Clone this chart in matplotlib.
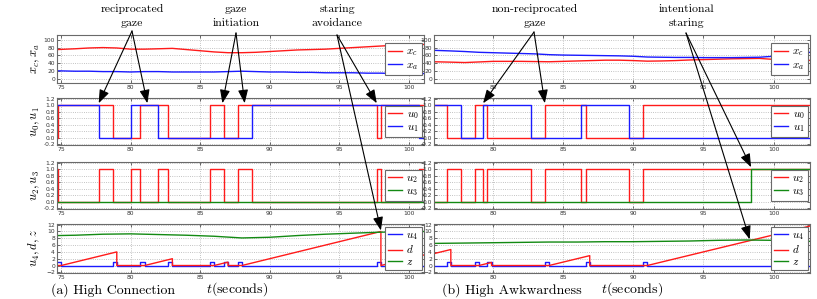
import matplotlib
matplotlib.use('Agg')
import matplotlib.pyplot as plt
from matplotlib.patches import ConnectionPatch
from matplotlib.ticker import FormatStrFormatter

plt.rcParams['mathtext.fontset'] = 'cm'

# ---------------- data: (a) High Connection ----------------
a_xlim = (74.7, 101.1)
a_xt = [74.7, 76, 77, 78, 79, 80, 81, 82, 83, 84, 85, 86, 87, 88, 89, 90, 91, 92, 93, 94, 95, 96, 97, 98, 99, 100, 101.1]
a_xc = [75, 77, 79, 80, 79, 76, 76, 77, 78, 75, 72, 69, 67, 67, 68, 70, 72, 74, 75, 76, 78, 80, 82, 84, 86, 87, 88]
a_xa = [21, 20, 20, 19, 19, 18, 19, 19, 18, 18, 18, 18, 19, 20, 19, 18, 18, 17, 17, 16, 16, 16, 15, 15, 14, 14, 14]

a_u0_t = [74.7, 74.8, 78.7, 80.7, 82.7, 85.7, 86.7, 87.7, 97.7, 98.0, 101.1]
a_u0_v = [0, 1, 0, 1, 0, 1, 0, 1, 0, 1, 1]
a_u1_t = [74.7, 77.7, 80.0, 82.0, 88.7, 100.75, 101.1]
a_u1_v = [1, 0, 1, 0, 1, 0, 0]
a_u2_t = [74.7, 74.8, 77.7, 78.7, 80.0, 80.7, 82.0, 82.7, 85.7, 86.7, 87.7, 88.7, 97.7, 98.0, 100.75, 101.1]
a_u2_v = [1, 0, 1, 0, 1, 0, 1, 0, 1, 0, 1, 0, 1, 0, 1, 1]
a_u3_t = [74.7, 101.1]
a_u3_v = [0, 0]
a_u4_t = [74.7, 75.0, 78.7, 79.0, 80.7, 81.0, 82.7, 83.0, 85.7, 86.0, 86.7, 87.0, 87.7, 88.0, 97.7, 98.0, 101.1]
a_u4_v = [1, 0, 1, 0, 1, 0, 1, 0, 1, 0, 1, 0, 1, 0, 1, 0, 0]
a_d_t = [74.7, 75.0, 79.0, 79.0, 81.0, 83.0, 83.0, 86.0, 87.0, 87.0, 88.0, 98.0, 98.0, 101.1]
a_d_v = [0, 0, 4.0, 0, 0, 2.0, 0, 0, 1.0, 0, 0, 10.0, 0, 3.1]
a_z_t = [74.7, 76, 78, 80, 82, 84, 86, 88, 90, 92, 94, 96, 98, 100, 101.1]
a_z_v = [8.8, 8.9, 9.2, 9.3, 9.1, 8.9, 8.6, 8.1, 8.3, 8.8, 9.2, 9.5, 9.8, 9.9, 10.0]

# ---------------- data: (b) High Awkwardness ----------------
b_xlim = (75.8, 102.6)
b_xt = [75.8, 77, 78, 79, 80, 81, 82, 83, 84, 85, 86, 87, 88, 89, 90, 91, 92, 93, 94, 95, 96, 97, 98, 99, 100, 101, 102, 102.6]
b_xc = [44, 43, 42, 43.5, 45, 45, 45, 44.5, 44, 45, 46, 47, 48, 48, 47, 45.5, 46, 47, 48.5, 49.5, 50.5, 51.5, 52, 52.5, 50, 48.5, 48, 47.5]
b_xa = [73, 71.5, 70, 68, 67, 66, 65, 64, 62, 61, 60.5, 60, 59.5, 59, 58, 56, 55.5, 55, 55, 54.5, 54.5, 54.5, 55, 55.5, 58, 62, 66, 68]

b_u0_t = [75.8, 76.7, 78.7, 79.6, 83.7, 86.6, 90.7, 102.6]
b_u0_v = [1, 0, 1, 0, 1, 0, 1, 1]
b_u1_t = [75.8, 77.7, 79.3, 82.7, 86.3, 89.7, 102.6]
b_u1_v = [1, 0, 1, 0, 1, 0, 0]
b_u2_t = [75.8, 76.7, 77.7, 78.7, 79.3, 79.6, 82.7, 83.7, 86.3, 86.6, 89.7, 90.7, 102.6]
b_u2_v = [0, 1, 0, 1, 0, 1, 0, 1, 0, 1, 0, 1, 1]
b_u3_t = [75.8, 98.4, 102.6]
b_u3_v = [0, 1, 1]
b_u4_t = [75.8, 76.7, 77.0, 78.7, 79.0, 79.6, 79.9, 83.7, 84.0, 86.6, 86.9, 90.7, 91.0, 102.6]
b_u4_v = [0, 1, 0, 1, 0, 1, 0, 1, 0, 1, 0, 1, 0, 0]
b_d_t = [75.8, 77.0, 77.0, 79.0, 79.9, 79.9, 84.0, 86.9, 86.9, 91.0, 102.6]
b_d_v = [3.5, 4.7, 0, 0, 0.9, 0, 0, 2.9, 0, 0, 11.6]
b_z_t = [75.8, 78, 80, 82, 84, 86, 88, 90, 92, 94, 96, 98, 100, 102.6]
b_z_v = [6.5, 6.6, 6.7, 6.8, 6.9, 6.9, 7.0, 7.0, 7.1, 7.2, 7.4, 7.5, 7.4, 7.1]

# ---------------- figure ----------------
W, H = 817, 299
fig = plt.figure(figsize=(W / 100, H / 100), dpi=100)

RED, BLUE, GREEN = '#ff1a1a', '#1a1aff', '#138a13'
LW = 1.0
cols = [(57, 424), (434, 810)]
rows = [(35, 83), (98, 145), (162, 209), (224, 273)]


def add_ax(c, r):
    x0, x1 = cols[c]
    y0, y1 = rows[r]
    ax = fig.add_axes([x0 / W, 1 - y1 / H, (x1 - x0) / W, (y1 - y0) / H])
    for s in ax.spines.values():
        s.set_color('#6a6a6a')
        s.set_linewidth(0.8)
    ax.grid(True, linestyle=':', color='#b0b0b0', linewidth=0.6)
    ax.tick_params(direction='in', length=2, width=0.5, labelsize=4.3, pad=1.5,
                   colors='#333333', top=True, right=True)
    return ax


def legend(ax):
    lg = ax.legend(loc='center right', fontsize=8, frameon=True, fancybox=False,
                   framealpha=1, edgecolor='#6a6a6a', borderaxespad=0.2,
                   handlelength=1.25, handletextpad=0.4, borderpad=0.3,
                   labelspacing=0.12)
    lg.get_frame().set_linewidth(0.8)


def ylab(ax, s):
    ax.set_ylabel(s, fontsize=9)
    ax.yaxis.set_label_coords(-0.042, 0.5)


panels = [
    dict(xlim=a_xlim, xt=a_xt, xc=a_xc, xa=a_xa,
         u0=(a_u0_t, a_u0_v), u1=(a_u1_t, a_u1_v), u2=(a_u2_t, a_u2_v), u3=(a_u3_t, a_u3_v),
         u4=(a_u4_t, a_u4_v), d=(a_d_t, a_d_v), z=(a_z_t, a_z_v), xticks=[75, 80, 85, 90, 95, 100]),
    dict(xlim=b_xlim, xt=b_xt, xc=b_xc, xa=b_xa,
         u0=(b_u0_t, b_u0_v), u1=(b_u1_t, b_u1_v), u2=(b_u2_t, b_u2_v), u3=(b_u3_t, b_u3_v),
         u4=(b_u4_t, b_u4_v), d=(b_d_t, b_d_v), z=(b_z_t, b_z_v), xticks=[80, 85, 90, 95, 100]),
]

axes = []
for c, p in enumerate(panels):
    col_axes = []
    ax = add_ax(c, 0)
    ax.plot(p['xt'], p['xc'], color=RED, lw=LW, label='$x_c$')
    ax.plot(p['xt'], p['xa'], color=BLUE, lw=LW, label='$x_a$')
    ax.set_ylim(-10, 112)
    ax.set_yticks([0, 20, 40, 60, 80, 100])
    legend(ax)
    if c == 0:
        ylab(ax, '$x_c, x_a$')
    col_axes.append(ax)

    ax = add_ax(c, 1)
    ax.step(*p['u0'], where='post', color=RED, lw=LW, label='$u_0$')
    ax.step(*p['u1'], where='post', color=BLUE, lw=LW, label='$u_1$')
    ax.set_ylim(-0.22, 1.22)
    ax.set_yticks([-0.2, 0, 0.2, 0.4, 0.6, 0.8, 1.0, 1.2])
    ax.yaxis.set_major_formatter(FormatStrFormatter('%.1f'))
    legend(ax)
    if c == 0:
        ylab(ax, '$u_0, u_1$')
    col_axes.append(ax)

    ax = add_ax(c, 2)
    ax.step(*p['u2'], where='post', color=RED, lw=LW, label='$u_2$')
    ax.step(*p['u3'], where='post', color=GREEN, lw=LW, label='$u_3$')
    ax.set_ylim(-0.22, 1.22)
    ax.set_yticks([-0.2, 0, 0.2, 0.4, 0.6, 0.8, 1.0, 1.2])
    ax.yaxis.set_major_formatter(FormatStrFormatter('%.1f'))
    legend(ax)
    if c == 0:
        ylab(ax, '$u_2, u_3$')
    col_axes.append(ax)

    ax = add_ax(c, 3)
    ax.step(*p['u4'], where='post', color=BLUE, lw=LW, label='$u_4$')
    ax.plot(*p['d'], color=RED, lw=LW, label='$d$')
    ax.plot(*p['z'], color=GREEN, lw=LW, label='$z$')
    ax.set_ylim(-2.2, 12.2)
    ax.set_yticks([-2, 0, 2, 4, 6, 8, 10, 12])
    legend(ax)
    if c == 0:
        ylab(ax, '$u_4, d, z$')
    col_axes.append(ax)

    for ax in col_axes:
        ax.set_xlim(*p['xlim'])
        ax.set_xticks(p['xticks'])
    axes.append(col_axes)

# ---------------- captions ----------------
cm = 'cmr10'
fig.text(51 / W, 1 - 290 / H, '(a) High Connection', fontsize=10, family=cm, va='center', ha='left')
fig.text(442 / W, 1 - 290 / H, '(b) High Awkwardness', fontsize=10, family=cm, va='center', ha='left')
fig.text(237 / W, 1 - 289 / H, r'$t$(seconds)', fontsize=10, family=cm, va='center', ha='center')
fig.text(632 / W, 1 - 289 / H, r'$t$(seconds)', fontsize=10, family=cm, va='center', ha='center')

# ---------------- annotations ----------------
ann_text = [
    (132, 'reciprocated\ngaze'),
    (236, 'gaze\ninitiation'),
    (337, 'staring\navoidance'),
    (535, 'non-reciprocated\ngaze'),
    (686, 'intentional\nstaring'),
]
for x, s in ann_text:
    fig.text(x / W, 1 - 16 / H, s, fontsize=8.5, family=cm, ha='center', va='center',
             linespacing=1.55)

arrows = [
    ((132, 31), 0, 1, (77.7, 1.06)),
    ((132, 31), 0, 1, (81.2, 1.06)),
    ((236, 33), 0, 1, (86.6, 1.06)),
    ((236, 33), 0, 1, (88.2, 1.06)),
    ((337, 35), 0, 1, (97.7, 1.06)),
    ((337, 35), 0, 3, (98.0, 10.3)),
    ((534, 32), 1, 1, (79.3, 1.06)),
    ((534, 32), 1, 1, (83.7, 1.06)),
    ((686, 33), 1, 2, (98.4, 1.06)),
    ((686, 33), 1, 3, (98.3, 7.7)),
]
for (px, py), c, r, tip in arrows:
    con = ConnectionPatch(xyA=(px, H - py), coordsA='figure pixels',
                          xyB=tip, coordsB=axes[c][r].transData,
                          arrowstyle='-|>,head_length=0.45,head_width=0.17',
                          mutation_scale=18, color='black', lw=0.8,
                          shrinkA=0, shrinkB=0)
    con.set_clip_on(False)
    fig.add_artist(con)

fig.savefig('out.png', dpi=100)
